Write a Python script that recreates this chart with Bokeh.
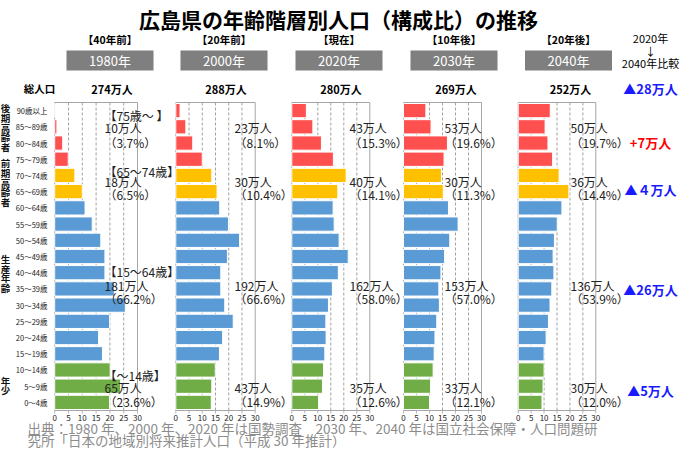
from bokeh.plotting import figure
from bokeh.models import Range1d
from bokeh.core.properties import value
from bokeh.embed import file_html
from bokeh.resources import INLINE

FONT = "Noto Sans CJK JP"

# ---------------- data ----------------
ages = ["90歳以上", "85～89歳", "80～84歳", "75～79歳", "70～74歳", "65～69歳",
        "60～64歳", "55～59歳", "50～54歳", "45～49歳", "40～44歳", "35～39歳",
        "30～34歳", "25～29歳", "20～24歳", "15～19歳", "10～14歳", "5～9歳", "0～4歳"]
years = ["1980年", "2000年", "2020年", "2030年", "2040年"]
period_labels = ["【40年前】", "【20年前】", "【現在】", "【10年後】", "【20年後】"]
pop_1980 = [0.3, 0.8, 2.9, 4.9, 7.3, 10.0, 11.0, 13.6, 16.7, 18.2, 18.2, 21.6, 25.6, 19.9, 15.9, 17.3, 20.1, 23.9, 19.9]
pop_2000 = [1.6, 3.8, 6.4, 10.0, 13.6, 15.6, 16.6, 19.9, 24.1, 19.5, 17.0, 17.0, 18.5, 21.7, 17.7, 16.5, 14.9, 13.6, 13.4]
pop_2020 = [5.6, 8.1, 11.4, 16.0, 20.9, 17.7, 15.9, 16.3, 18.2, 21.7, 17.9, 15.6, 14.1, 13.1, 13.2, 12.7, 12.2, 11.8, 10.3]
pop_2030 = [8.6, 10.6, 16.9, 15.6, 14.6, 15.3, 17.3, 21.0, 17.8, 15.8, 14.4, 13.6, 13.8, 12.8, 12.1, 11.8, 11.4, 10.4, 10.0]
pop_2040 = [12.4, 10.4, 11.5, 13.3, 15.8, 19.6, 16.9, 15.1, 14.0, 13.5, 13.8, 13.0, 12.3, 11.7, 10.8, 10.0, 10.0, 9.6, 9.2]
totals = [274, 288, 280, 269, 252]
late_elderly = [10, 23, 43, 53, 50]
late_elderly_pct = [3.7, 8.1, 15.3, 19.6, 19.7]
early_elderly = [18, 30, 40, 30, 36]
early_elderly_pct = [6.5, 10.4, 14.1, 11.3, 14.4]
working = [181, 192, 162, 153, 136]
working_pct = [66.2, 66.6, 58.0, 57.0, 53.9]
young = [65, 43, 35, 33, 30]
young_pct = [23.6, 14.9, 12.6, 12.1, 12.0]
group_brackets = ["【75歳～ 】", "【65～74歳】", "【15～64歳】", "【～14歳】"]
group_names = ["後期高齢者", "前期高齢者", "生産年齢", "年少"]
change_total = "▲28万人"
changes = ["+7万人", "▲４万人", "▲26万人", "▲5万人"]
change_colors = ["#ff0000", "#1a1aff", "#1a1aff", "#1a1aff"]
ticks = [0, 5, 10, 15, 20, 25, 30]

pops = [pop_1980, pop_2000, pop_2020, pop_2030, pop_2040]
group_of_row = ["late"] * 4 + ["early"] * 2 + ["work"] * 10 + ["young"] * 3
group_color = {"late": "#ff5050", "early": "#ffc000", "work": "#5b9bd5", "young": "#70ad47"}

# ---------------- layout (canvas pixels) ----------------
W, H = 680, 449
panel_x0 = [54.2, 175.3, 291.3, 403.0, 517.7]
panel_x30 = [137.0, 254.7, 369.3, 481.0, 595.3]
box_cx = [109.5, 223.5, 338.5, 453.5, 568.0]
note_x = [104, 234, 349, 444, 570]
group_label_cy = [127, 182, 273, 385]
frame_top, frame_bot = 102.0, 410.0
pitch = (frame_bot - frame_top) / len(ages)

p = figure(width=W, height=H, x_range=Range1d(0, W), y_range=Range1d(H, 0),
           output_backend="svg", toolbar_location=None, min_border=0,
           x_axis_type=None, y_axis_type=None, outline_line_color=None,
           title=None, background_fill_color="white", border_fill_color="white")
p.grid.visible = False

p.extra_y_ranges["rows"] = Range1d(start=(H - frame_top) / pitch - 0.5,
                                   end=(0 - frame_top) / pitch - 0.5)


def txt(x, y, s, size, color="#000000", bold=False, align="center",
        baseline="middle", **kw):
    p.text(x=[x], y=[y], text=[s], text_font=value(FONT),
           text_font_size=f"{size}px", text_color=color,
           text_font_style="bold" if bold else "normal",
           text_align=align, text_baseline=baseline, **kw)


# title
txt(338, 18, "広島県の年齢階層別人口（構成比）の推移", 21, bold=True)

# left labels
txt(39, 88, "総人口", 10.5, bold=True)
idx = list(range(len(ages)))
p.text(x=[47] * len(ages), y=idx, text=ages, text_font=value(FONT),
       text_font_size="7.5px", text_color="#222222", text_align="right",
       text_baseline="middle", y_range_name="rows")
for s, cy in zip(group_names, group_label_cy):
    n = len(s)
    ys = [cy + (i - (n - 1) / 2) * 9.8 for i in range(n)]
    p.text(x=[5] * n, y=ys, text=list(s), text_font=value(FONT),
           text_font_size="9.5px", text_font_style="bold", text_color="#111111",
           text_align="center", text_baseline="middle")

colors = [group_color[g] for g in group_of_row]

for k in range(5):
    name = f"p{k}"
    u = 30.0 / (panel_x30[k] - panel_x0[k])
    a = -panel_x0[k] * u
    p.extra_x_ranges[name] = Range1d(start=a, end=a + W * u)

    # header
    txt(box_cx[k], 39, period_labels[k], 10.5, bold=True)
    p.rect(x=[box_cx[k]], y=[60], width=87, height=20, fill_color="#7f7f7f",
           line_color=None)
    txt(box_cx[k], 60, years[k], 13, color="white")
    txt(box_cx[k] + 2, 88, f"{totals[k]}万人", 11, bold=True)

    # grid + frame
    p.segment(x0=ticks[1:-1], x1=ticks[1:-1], y0=-0.5, y1=len(ages) - 0.5,
              line_color="#8a8a8a", line_dash="3 2", line_width=0.8,
              x_range_name=name, y_range_name="rows")
    p.quad(left=[0], right=[30], top=[-0.5], bottom=[len(ages) - 0.5],
           fill_color=None, line_color="#a6a6a6", line_width=1,
           x_range_name=name, y_range_name="rows")
    p.segment(x0=ticks, x1=ticks, y0=frame_bot, y1=frame_bot + 3,
              line_color="#a6a6a6", line_width=0.8, x_range_name=name)
    p.text(x=ticks, y=[417] * len(ticks), text=[str(t) for t in ticks],
           text_font=value(FONT), text_font_size="8px", text_color="#222222",
           text_align="center", text_baseline="middle", x_range_name=name)

    # bars
    p.hbar(y=idx, left=0, right=pops[k], height=0.88, fill_color=colors,
           line_color="white", line_width=1, x_range_name=name,
           y_range_name="rows")

    # group notes
    nx = note_x[k]
    groups = [(late_elderly, late_elderly_pct, 115, 127, 141.5),
              (early_elderly, early_elderly_pct, 171, 181, 194),
              (working, working_pct, 271, 285, 298),
              (young, young_pct, 375, 387, 400.5)]
    for gi, (vals, pcts, yb, yv, yp) in enumerate(groups):
        if k == 0:
            txt(nx, yb, group_brackets[gi], 12, color="#222222", align="left")
        txt(nx, yv, f"{vals[k]}万人", 12, color="#222222", align="left")
        txt(nx, yp, f"（{pcts[k]:.1f}%）", 12, color="#222222", align="left")

# right comparison column
rc = 650
txt(rc, 37, "2020年", 11)
txt(rc, 50, "↓", 11)
txt(rc, 62, "2040年比較", 11)
txt(rc, 88, change_total, 13, color="#1a1aff", bold=True)
for s, c, cy in zip(changes, change_colors, [142, 189, 289, 390]):
    txt(rc, cy, s, 13, color=c, bold=True)

# footer
txt(27, 427, "出典：1980 年、2000 年、2020 年は国勢調査　2030 年、2040 年は国立社会保障・人口問題研",
    13.5, color="#8c8c8c", align="left")
txt(27, 439.5, "究所「日本の地域別将来推計人口（平成 30 年推計）", 13.5, color="#8c8c8c",
    align="left")

open("out.html", "w").write(file_html(p, INLINE))
